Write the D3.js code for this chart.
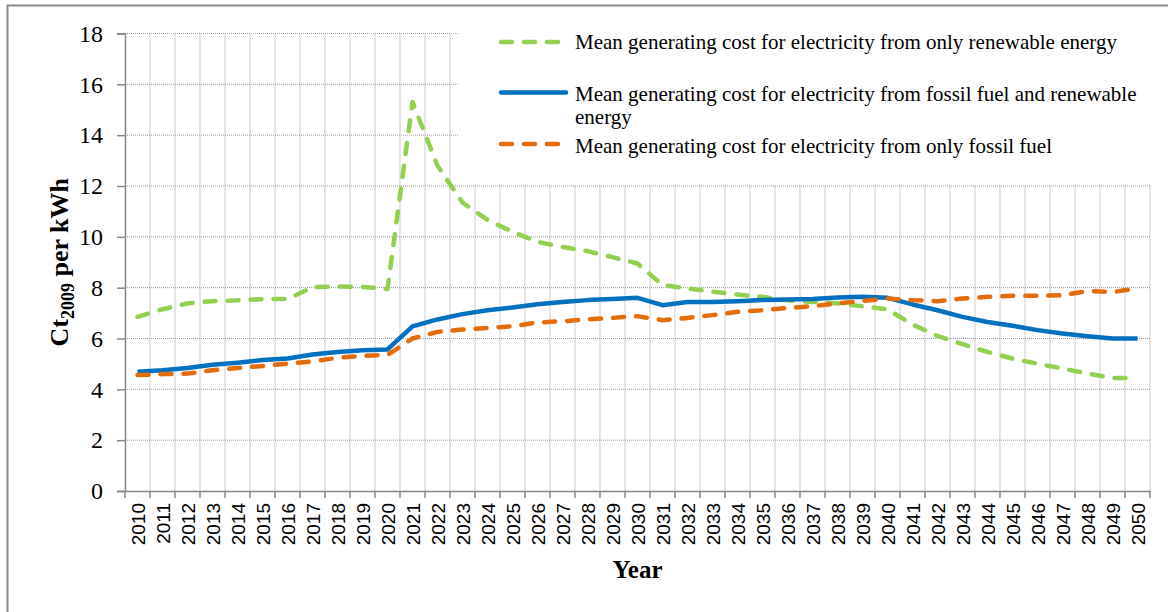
<!DOCTYPE html>
<html>
<head>
<meta charset="utf-8">
<script src="https://cdn.jsdelivr.net/npm/d3@7"></script>
<style>
  html, body { margin: 0; padding: 0; background: #fff; }
  svg { display: block; }
  .serif { font-family: "Liberation Serif", "Times New Roman", serif; }
  .sans { font-family: "Liberation Sans", Arial, sans-serif; }
</style>
</head>
<body>
<svg id="chart" width="1168" height="612"></svg>
<script>
const years = d3.range(2010, 2051).map(String);
const yTicks = [0, 2, 4, 6, 8, 10, 12, 14, 16, 18];

const renewableOnly = [6.85, 7.15, 7.38, 7.47, 7.5, 7.55, 7.55, 8.02, 8.05, 8.03,
  7.95, 15.3, 12.8, 11.35, 10.66, 10.2, 9.8, 9.6, 9.44, 9.2,
  8.95, 8.1, 7.97, 7.84, 7.73, 7.64, 7.5, 7.44, 7.38, 7.27,
  7.15, 6.55, 6.1, 5.78, 5.47, 5.21, 5.01, 4.82, 4.62, 4.45, 4.45];
const mixed = [4.69, 4.75, 4.84, 4.97, 5.05, 5.15, 5.21, 5.37, 5.47, 5.54,
  5.57, 6.48, 6.75, 6.96, 7.11, 7.22, 7.35, 7.44, 7.51, 7.55,
  7.6, 7.31, 7.44, 7.44, 7.47, 7.51, 7.53, 7.55, 7.61, 7.64,
  7.6, 7.34, 7.11, 6.85, 6.65, 6.5, 6.33, 6.2, 6.09, 6.0, 6.0];
const fossilOnly = [4.56, 4.6, 4.62, 4.75, 4.84, 4.92, 5.01, 5.1, 5.24, 5.32,
  5.35, 6.0, 6.26, 6.35, 6.42, 6.48, 6.63, 6.68, 6.75, 6.81,
  6.88, 6.72, 6.81, 6.92, 7.05, 7.11, 7.2, 7.27, 7.38, 7.48,
  7.57, 7.51, 7.47, 7.57, 7.64, 7.68, 7.68, 7.7, 7.87, 7.83, 7.97];

const seriesNames = [
  ["Mean generating cost for electricity from only renewable energy"],
  ["Mean generating cost for electricity from fossil fuel and renewable", "energy"],
  ["Mean generating cost for electricity from only fossil fuel"]
];

const series = [
  { values: renewableOnly, color: "#92D050", dash: "11,12", name: seriesNames[0] },
  { values: mixed, color: "#0070C0", dash: null, name: seriesNames[1] },
  { values: fossilOnly, color: "#E46C0A", dash: "11,12", name: seriesNames[2] }
];

const svg = d3.select("#chart");
const L = 125, R = 1150, T = 33.5, B = 491;
const axisColor = "#868686";
const SERIF = '"Liberation Serif", "Times New Roman", serif';
const SANS = '"Liberation Sans", Arial, sans-serif';

// outer frame
svg.append("rect").attr("x", 7.5).attr("y", 5.5).attr("width", 1300).attr("height", 700)
  .attr("fill", "none").attr("stroke", "#8c8c8c").attr("stroke-width", 2);

const x = d3.scaleBand().domain(years).range([L, R]).paddingInner(0).paddingOuter(0);
const y = d3.scaleLinear().domain([0, 18]).range([B, T]);
const cx = d => x(d) + x.bandwidth() / 2;

// grid
const grid = svg.append("g");
grid.selectAll(".hg").data(yTicks.filter(v => v > 0)).join("line")
  .attr("x1", L).attr("x2", R).attr("y1", d => y(d)).attr("y2", d => y(d))
  .attr("stroke", "#9a9a9a").attr("stroke-width", 1).attr("stroke-dasharray", "1,1");
const bounds = years.map(d => x(d) + x.bandwidth()); // right edges
grid.selectAll(".vg").data(bounds).join("line")
  .attr("x1", d => d).attr("x2", d => d).attr("y1", T).attr("y2", B)
  .attr("stroke", "#9a9a9a").attr("stroke-width", 1).attr("stroke-dasharray", "1,1");

// legend background (covers grid)
svg.append("rect").attr("x", 459).attr("y", 20).attr("width", 700).attr("height", 165).attr("fill", "#fff");

// y axis
const yAxis = svg.append("g").attr("transform", `translate(${L},0)`)
  .call(d3.axisLeft(y).tickValues(yTicks).tickSize(8).tickPadding(14).tickFormat(d3.format("d")));
yAxis.attr("font-family", null).attr("font-size", null);
yAxis.select(".domain").attr("stroke", axisColor).attr("stroke-width", 1.5);
yAxis.selectAll(".tick line").attr("stroke", axisColor).attr("stroke-width", 1.5);
yAxis.selectAll(".tick text").style("font-family", SERIF)
  .style("font-size", "24px").attr("fill", "#000");

// x axis
const xAxis = svg.append("g").attr("transform", `translate(0,${B})`)
  .call(d3.axisBottom(x).tickSize(0).tickPadding(0));
xAxis.attr("font-family", null).attr("font-size", null);
xAxis.select(".domain").attr("stroke", axisColor).attr("stroke-width", 1.5);
xAxis.selectAll(".tick text")
  .style("font-family", SANS).style("font-size", "19px").attr("fill", "#000")
  .attr("text-anchor", "end").attr("dy", "0.35em")
  .attr("transform", "translate(1,12) rotate(-90)").attr("x", 0).attr("y", 0);
xAxis.selectAll(".btick").data([L].concat(bounds)).join("line")
  .attr("x1", d => d).attr("x2", d => d).attr("y1", 0).attr("y2", 7)
  .attr("stroke", axisColor).attr("stroke-width", 1.5);

// lines
const line = d3.line().x((d, i) => cx(years[i])).y(d => y(d)).curve(d3.curveLinear);
series.forEach(s => {
  svg.append("path").datum(s.values).attr("d", line)
    .attr("fill", "none").attr("stroke", s.color).attr("stroke-width", 4.5)
    .attr("stroke-linecap", s.dash ? "round" : "butt").attr("stroke-linejoin", "round")
    .attr("stroke-dasharray", s.dash);
});

// legend
const legY = [42, 92.5, 144];
const legBase = [[48.5], [100.5, 123.5], [152.5]];
const leg = svg.append("g");
series.forEach((s, i) => {
  leg.append("line").attr("x1", 501).attr("x2", 566).attr("y1", legY[i]).attr("y2", legY[i])
    .attr("stroke", s.color).attr("stroke-width", 4.5)
    .attr("stroke-linecap", "round").attr("stroke-dasharray", s.dash);
  s.name.forEach((t, j) => {
    leg.append("text").attr("x", 575).attr("y", legBase[i][j]).text(t)
      .style("font-family", SERIF).style("font-size", "21px").attr("fill", "#000");
  });
});

// y axis title
const yt = svg.append("text").attr("transform", `translate(68,${(T + B) / 2}) rotate(-90)`)
  .attr("text-anchor", "middle")
  .style("font-family", SERIF).style("font-size", "26px").style("font-weight", "bold").attr("fill", "#000");
yt.append("tspan").text("Ct");
yt.append("tspan").text("2009").style("font-size", "18px").attr("dy", 6);
yt.append("tspan").text(" per kWh").attr("dy", -6);

// x axis title
svg.append("text").attr("x", (L + R) / 2).attr("y", 578).attr("text-anchor", "middle")
  .style("font-family", SERIF).style("font-size", "25px").style("font-weight", "bold")
  .attr("fill", "#000").text("Year");
</script>
</body>
</html>
